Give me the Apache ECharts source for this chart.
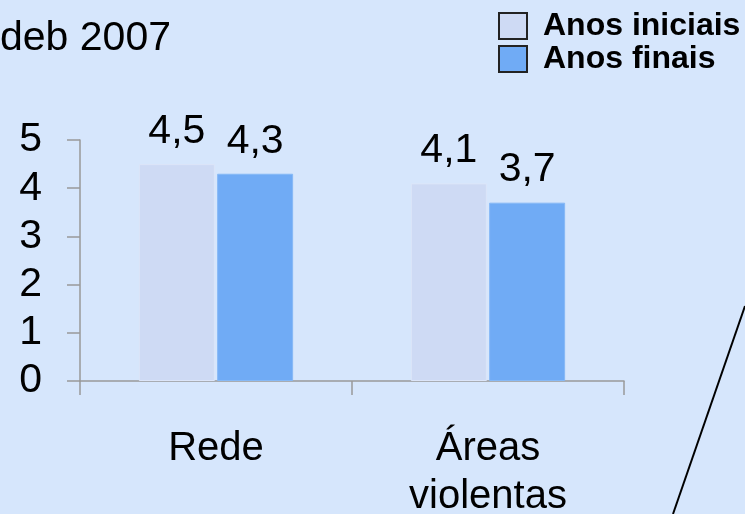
<!DOCTYPE html>
<html>
<head>
<meta charset="utf-8">
<script src="https://cdn.jsdelivr.net/npm/echarts@6/dist/echarts.min.js"></script>
<style>
html,body{margin:0;padding:0;background:#D6E6FC;}
#c{width:745px;height:514px;}
</style>
</head>
<body>
<div id="c"></div>
<script>
const titleText = 'deb 2007';
const categories = ['Rede', 'Áreas\nviolentas'];
const seriesNames = ['Anos iniciais', 'Anos finais'];
const anosIniciais = [4.5, 4.1];
const anosFinais = [4.3, 3.7];
const yTicks = [0, 1, 2, 3, 4, 5];

const FONT = "'Liberation Sans', Arial, Helvetica, sans-serif";
const chart = echarts.init(document.getElementById('c'));
const fmt = p => String(p.value).replace('.', ',');
chart.setOption({
  backgroundColor: '#D6E6FC',
  animation: false,
  title: {
    text: titleText, left: 0, top: 18, padding: 0,
    textStyle: {fontFamily: FONT, fontSize: 41, fontWeight: 'normal', color: '#000'}
  },
  legend: {
    orient: 'vertical', left: 498, top: 10, padding: 0,
    itemWidth: 28, itemHeight: 26, itemGap: 1,
    icon: 'rect',
    data: seriesNames,
    itemStyle: {borderColor: '#222', borderWidth: 2},
    textStyle: {fontFamily: FONT, fontSize: 32, fontWeight: 'bold', color: '#000', lineHeight: 26, padding: [0,0,0,11]}
  },
  grid: {left: 80, right: 121, top: 140, bottom: 133, outerBoundsMode: 'none', containLabel: false},
  xAxis: {
    type: 'category', data: categories,
    axisLine: {lineStyle: {color: '#999', width: 1.5}},
    axisTick: {show: true, length: 14, lineStyle: {color: '#999', width: 1.5}},
    axisLabel: {fontFamily: FONT, fontSize: 40, color: '#000', margin: 44, lineHeight: 48}
  },
  yAxis: {
    type: 'value', min: yTicks[0], max: yTicks[yTicks.length-1], interval: 1,
    splitLine: {show: false},
    axisLine: {show: true, lineStyle: {color: '#999', width: 1.5}},
    axisTick: {show: true, length: 13, lineStyle: {color: '#999', width: 1.5}},
    axisLabel: {fontFamily: FONT, fontSize: 41, color: '#000', margin: 38}
  },
  series: [
    {
      name: seriesNames[0], type: 'bar', data: anosIniciais,
      barWidth: 76, barGap: '3%',
      itemStyle: {color: '#CEDAF4', borderColor: '#DCE5F8', borderWidth: 1},
      label: {show: true, position: 'top', distance: 12, formatter: fmt,
        fontFamily: FONT, fontSize: 41, color: '#000'}
    },
    {
      name: seriesNames[1], type: 'bar', data: anosFinais,
      barWidth: 76,
      itemStyle: {color: '#70ABF5', borderColor: '#86B9F6', borderWidth: 1},
      label: {show: true, position: 'top', distance: 12, formatter: fmt,
        fontFamily: FONT, fontSize: 41, color: '#000'}
    }
  ],
  graphic: [{
    type: 'line', shape: {x1: 745, y1: 306, x2: 673, y2: 514},
    style: {stroke: '#000', lineWidth: 2}
  }]
});
</script>
</body>
</html>
